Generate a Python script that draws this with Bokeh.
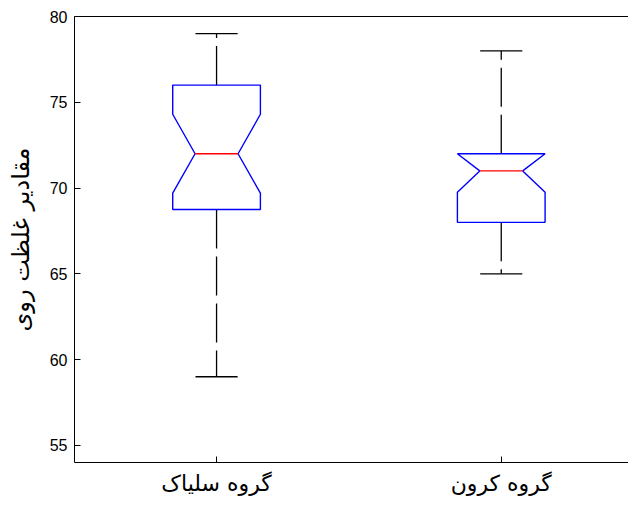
from bokeh.plotting import figure
from bokeh.models import LinearAxis, FixedTicker, Range1d
from bokeh.embed import file_html
from bokeh.resources import INLINE

# ---- data ----
groups = ["گروه سلیاک", "گروه کرون"]
positions = [1, 2]
q1 = [68.75, 68.0]
median = [72.0, 71.0]
q3 = [76.0, 72.0]
notch_lo = [69.7, 69.75]
notch_hi = [74.3, 72.25]
whisker_lo = [59.0, 65.0]
whisker_hi = [79.0, 78.0]
y_ticks = [55, 60, 65, 70, 75, 80]
y_label = "مقادیر غلظت روی"

# ---- style ----
BOX_HALF = 0.154
NOTCH_HALF = 0.0755
CAP_HALF = 0.074
ARABIC_FONT = "DejaVu Sans"
NUM_FONT = "Liberation Sans"

p = figure(width=628, height=498,
           x_range=Range1d(0.501, 2.447), y_range=Range1d(54.0, 80),
           output_backend="svg", toolbar_location=None,
           min_border_left=74, min_border_right=0,
           min_border_top=16, min_border_bottom=36)
p.xgrid.visible = False
p.ygrid.visible = False
p.outline_line_color = None
p.background_fill_color = "white"
p.border_fill_color = "white"

# boxes with notches
xs, ys = [], []
for i, x in enumerate(positions):
    nh = min(notch_hi[i], q3[i])
    nl = max(notch_lo[i], q1[i])
    xs.append([x - BOX_HALF, x - BOX_HALF, x - NOTCH_HALF, x - BOX_HALF, x - BOX_HALF,
               x + BOX_HALF, x + BOX_HALF, x + NOTCH_HALF, x + BOX_HALF, x + BOX_HALF])
    ys.append([q1[i], nl, median[i], nh, q3[i], q3[i], nh, median[i], nl, q1[i]])

# whiskers (dashed, drawn from box outward)
p.segment(x0=positions, y0=q3, x1=positions, y1=whisker_hi,
          line_color="black", line_width=1.3, line_dash="39 8")
p.segment(x0=positions, y0=q1, x1=positions, y1=whisker_lo,
          line_color="black", line_width=1.3, line_dash="39 8")
# caps
p.segment(x0=[x - CAP_HALF for x in positions], y0=whisker_hi,
          x1=[x + CAP_HALF for x in positions], y1=whisker_hi,
          line_color="black", line_width=1.3)
p.segment(x0=[x - CAP_HALF for x in positions], y0=whisker_lo,
          x1=[x + CAP_HALF for x in positions], y1=whisker_lo,
          line_color="black", line_width=1.3)

p.patches(xs=xs, ys=ys, fill_color=None, line_color="#0000ff", line_width=1.4)

# medians
p.segment(x0=[x - NOTCH_HALF for x in positions], y0=median,
          x1=[x + NOTCH_HALF for x in positions], y1=median,
          line_color="#ff0000", line_width=1.4)

# axes
for ax in (p.xaxis[0], p.yaxis[0]):
    ax.axis_line_color = "black"
    ax.axis_line_width = 1
    ax.major_tick_line_color = "black"
    ax.major_tick_in = 6
    ax.major_tick_out = 0
    ax.minor_tick_line_color = None
    ax.major_label_text_color = "black"

xa = p.xaxis[0]
xa.ticker = FixedTicker(ticks=positions)
xa.major_label_overrides = {positions[i]: groups[i] for i in range(len(groups))}
xa.major_label_text_font = ARABIC_FONT
xa.major_label_text_font_size = "22px"
xa.major_label_standoff = 8

ya = p.yaxis[0]
ya.ticker = FixedTicker(ticks=y_ticks)
ya.major_label_text_font = NUM_FONT
ya.major_label_text_font_size = "16px"
ya.major_label_standoff = 7
ya.axis_label = y_label
ya.axis_label_text_font = ARABIC_FONT
ya.axis_label_text_font_size = "24px"
ya.axis_label_text_font_style = "normal"
ya.axis_label_text_color = "black"
ya.axis_label_standoff = 12

top = LinearAxis(ticker=FixedTicker(ticks=[]), major_tick_in=0, major_tick_out=0,
                 minor_tick_in=0, minor_tick_out=0, major_label_text_font_size="0px",
                 major_label_standoff=0, axis_line_color="black", axis_line_width=1)
p.add_layout(top, "above")

open("out.html", "w").write(file_html(p, INLINE))
